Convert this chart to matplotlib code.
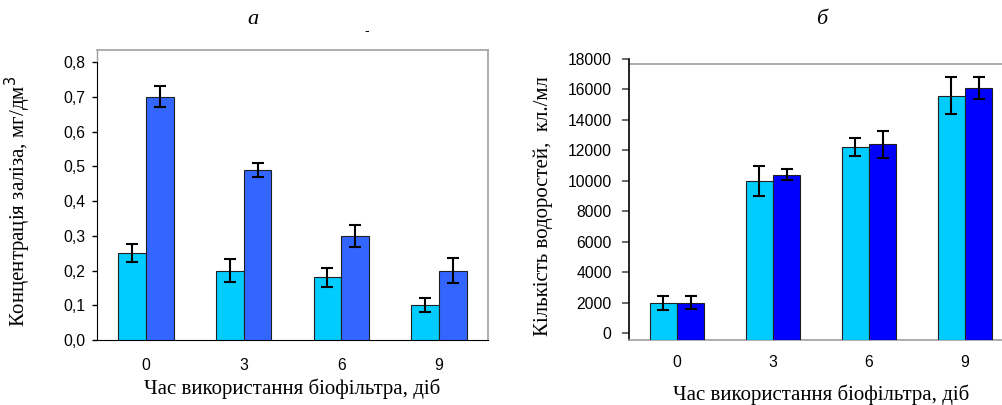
import matplotlib
matplotlib.use("Agg")
import matplotlib.pyplot as plt
import numpy as np

# ---- data ----
days = ["0", "3", "6", "9"]

iron_light = [0.25, 0.20, 0.18, 0.10]
iron_light_err = [0.025, 0.032, 0.026, 0.020]
iron_dark = [0.70, 0.49, 0.30, 0.20]
iron_dark_err = [0.030, 0.020, 0.031, 0.036]
iron_ticks = [0.0, 0.1, 0.2, 0.3, 0.4, 0.5, 0.6, 0.7, 0.8]
iron_ticklabels = ["0,0", "0,1", "0,2", "0,3", "0,4", "0,5", "0,6", "0,7", "0,8"]

algae_light = [2000, 10000, 12200, 15600]
algae_light_err = [460, 1000, 600, 1200]
algae_dark = [2000, 10400, 12400, 16100]
algae_dark_err = [400, 370, 900, 700]
algae_ticks = [0, 2000, 4000, 6000, 8000, 10000, 12000, 14000, 16000, 18000]

# ---- style ----
W, H = 1002, 405
C_LIGHT = "#00CCFF"
C_DARK_A = "#3366FF"
C_DARK_B = "#0000FF"
GRAY = "#A0A0A0"
SANS = ["Liberation Sans", "DejaVu Sans"]
SERIF = ["Liberation Serif", "DejaVu Serif"]
BW = 0.285
TICK_FS = 11.3
LABEL_FS = 15.0
B_FLOOR = -460  # axis floor of panel b (bars are drawn from it)

fig = plt.figure(figsize=(W / 100, H / 100), dpi=100)

def px_axes(l, t, r, b):
    return fig.add_axes([l / W, 1 - b / H, (r - l) / W, (b - t) / H])

err_kw = dict(ecolor="black", elinewidth=1.5, capsize=4, capthick=1.5)

# ---- panel a ----
ax1 = px_axes(97, 50, 488, 340)
x = np.arange(len(days))
ax1.bar(x - BW / 2, iron_light, BW, color=C_LIGHT, edgecolor="#202020", linewidth=0.8,
        yerr=iron_light_err, error_kw=err_kw, zorder=3)
ax1.bar(x + BW / 2, iron_dark, BW, color=C_DARK_A, edgecolor="#202020", linewidth=0.8,
        yerr=iron_dark_err, error_kw=err_kw, zorder=3)
ax1.set_xlim(-0.5, 3.5)
ax1.set_ylim(0, 0.835)
ax1.set_yticks(iron_ticks)
ax1.set_yticklabels(iron_ticklabels, family=SANS, fontsize=TICK_FS)
ax1.set_xticks(x)
ax1.set_xticklabels(days, family=SANS, fontsize=TICK_FS)
ax1.tick_params(axis="x", length=0, pad=13)
ax1.tick_params(axis="y", length=3.6, width=1, direction="out", pad=5)
for s in ("top", "right"):
    ax1.spines[s].set_color(GRAY)
    ax1.spines[s].set_linewidth(1.2)
ax1.spines["bottom"].set_color("black")
ax1.spines["left"].set_color("black")
ax1.spines["left"].set_bounds(0, 0.8)
ax1.plot([0, 0], [0.8, 0.835], transform=ax1.get_yaxis_transform(), color=GRAY,
         lw=1, clip_on=False)
ax1.set_xlabel("Час використання біофільтра, діб", family=SERIF, fontsize=LABEL_FS, labelpad=4)
ax1.set_ylabel("Концентрація заліза, мг/дм$^3$", family=SERIF, fontsize=LABEL_FS)
ax1.yaxis.set_label_coords(-0.163, 0.476)

# ---- panel b ----
ax2 = px_axes(629, 59, 1013, 340)
light_h = [v - B_FLOOR for v in algae_light]
dark_h = [v - B_FLOOR for v in algae_dark]
ax2.bar(x - BW / 2, light_h, BW, bottom=B_FLOOR, color=C_LIGHT, edgecolor="#202020",
        linewidth=0.8, yerr=algae_light_err, error_kw=err_kw, zorder=3)
ax2.bar(x + BW / 2, dark_h, BW, bottom=B_FLOOR, color=C_DARK_B, edgecolor="#202020",
        linewidth=0.8, yerr=algae_dark_err, error_kw=err_kw, zorder=3)
ax2.set_xlim(-0.5, 3.5)
ax2.set_ylim(B_FLOOR, 18000)
ax2.set_yticks(algae_ticks)
ax2.set_yticklabels([str(t) for t in algae_ticks], family=SANS, fontsize=TICK_FS)
ax2.set_xticks(x)
ax2.set_xticklabels(days, family=SANS, fontsize=TICK_FS)
ax2.tick_params(axis="x", length=0, pad=11)
ax2.tick_params(axis="y", length=5, width=1.2, direction="out", pad=7.5, color="#505050")
ax2.spines["top"].set_visible(False)
ax2.spines["right"].set_visible(False)
ax2.spines["bottom"].set_color(GRAY)
ax2.spines["bottom"].set_linewidth(1.2)
ax2.spines["left"].set_color("black")
ax2.spines["left"].set_linewidth(1.2)
ax2.axhline(17670, color=GRAY, lw=1.2, zorder=1)
ax2.set_xlabel("Час використання біофільтра, діб", family=SERIF, fontsize=LABEL_FS, labelpad=10)
ax2.set_ylabel("Кількість водоростей,  кл./мл", family=SERIF, fontsize=LABEL_FS)
ax2.yaxis.set_label_coords(-0.198, 0.475)

# ---- panel letters ----
fig.text(253 / W, 1 - 20 / H, "а", family=SERIF, style="italic", fontsize=16,
         ha="center", va="center")
fig.text(822 / W, 1 - 20 / H, "б", family=SERIF, style="italic", fontsize=16,
         ha="center", va="center")
fig.text(367 / W, 1 - 31 / H, "-", family=SANS, fontsize=10, ha="center", va="center")

fig.savefig("out.png", dpi=100)
